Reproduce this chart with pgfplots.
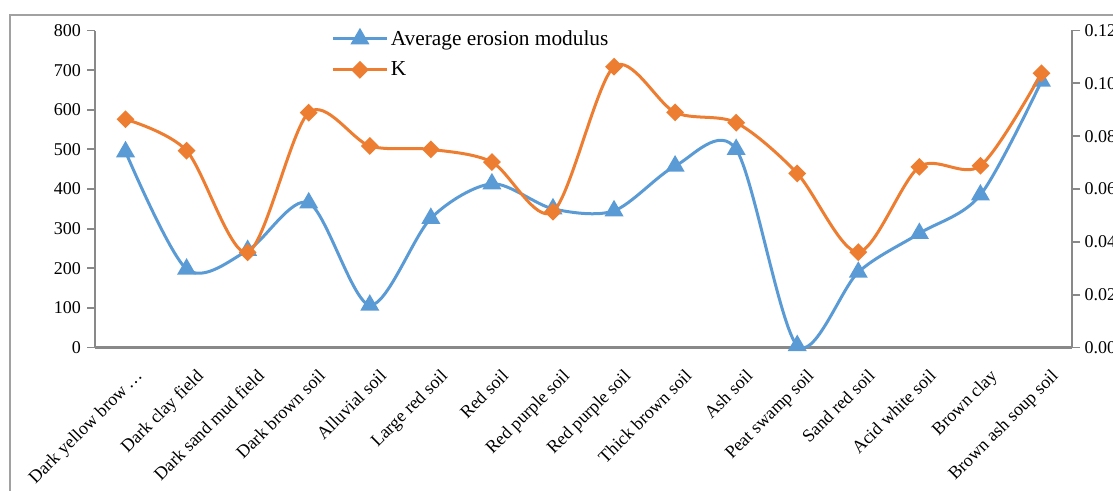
\documentclass[border=0pt]{standalone}
\usepackage{pgfplots}
\pgfplotsset{compat=1.18}
\usepackage{fontspec}
\setmainfont{Liberation Serif}

\definecolor{xlblue}{HTML}{5B9BD5}
\definecolor{xlorange}{HTML}{ED7D31}
\definecolor{xlgrey}{HTML}{898989}

% average erosion modulus (left axis)
\pgfplotstableread{
x  E
0  494
1  198
2  245
3  365
4  107
5  326
6  413
7  350
8  345
9  458
10 500
11 5
12 190
13 288
14 385
15 672
}\erosion

% K (right axis)
\pgfplotstableread{
x  K
0  0.0864
1  0.0745
2  0.0360
3  0.0889
4  0.0763
5  0.0750
6  0.0702
7  0.0514
8  0.1063
9  0.0890
10 0.0851
11 0.0659
12 0.0361
13 0.0684
14 0.0688
15 0.1038
}\kval

\pgfplotsset{
  common/.style={
    width=732.75pt, height=237.75pt, scale only axis,
    at={(71.25pt,106.875pt)}, anchor=south west,
    xmin=-0.5, xmax=15.5,
    /pgf/number format/assume math mode=true,
    tick label style={font=\fontsize{13.5}{15}\selectfont, text=black},
    axis line style={xlgrey, line width=1.6pt},
    major tick style={xlgrey, line width=1.4pt},
    minor tick style={xlgrey, line width=1.4pt},
    tick align=outside,
    major tick length=6pt, minor tick length=6pt,
  },
}

\begin{document}
\begin{tikzpicture}
\useasboundingbox (0,0) rectangle (834.75pt,367.5pt);
\begin{scope}
  \clip (0,0) rectangle (834.75pt,367.5pt);
  \draw[xlgrey!80, line width=1.8pt] (7.5pt,-20pt) rectangle (900pt,356.25pt);
\end{scope}

\begin{axis}[
  common,
  axis x line*=bottom, axis y line*=left,
  ymin=0, ymax=800, ytick={0,100,...,800},
  xtick={0,...,15},
  xticklabels={Dark yellow brow\,…, Dark clay field, Dark sand mud field, Dark brown soil, Alluvial soil, Large red soil, Red soil, Red purple soil, Red purple soil, Thick brown soil, Ash soil, Peat swamp soil, Sand red soil, Acid white soil, Brown clay, Brown ash soup soil},
  x tick label style={xshift=6.5pt, yshift=-6.5pt, rotate=45, anchor=north east, inner sep=2pt},
  x tick style={draw=none},
  minor xtick={-0.5,0.5,...,15.5},
  yticklabel style={xshift=-1pt},
]
\addplot[xlblue, line width=2.25pt, smooth, tension=0.5,
  mark=triangle*, mark size=6pt, mark options={solid}] table[x=x, y=E] {\erosion};
\end{axis}

\begin{axis}[
  common,
  axis x line=none, axis y line*=right,
  ymin=0, ymax=0.12, ytick={0,0.02,...,0.121},
  yticklabel style={/pgf/number format/.cd, fixed, fixed zerofill, precision=2},
  legend style={draw=none, fill=none, at={(0.238,1.018)}, anchor=north west,
    font=\fontsize{16}{19}\selectfont, row sep=7pt,
    legend cell align=left},
  legend image code/.code={
    \draw[#1, mark repeat=2, mark phase=2] plot coordinates {(0pt,0pt) (20pt,0pt) (40pt,0pt)};
  },
]
\addlegendimage{xlblue, line width=2.25pt, mark=triangle*, mark size=6pt}
\addlegendentry{Average erosion modulus}
\addplot[xlorange, line width=2.25pt, smooth, tension=0.5,
  mark=square*, mark size=3.6pt, mark options={rotate=45}] table[x=x, y=K] {\kval};
\addlegendentry{K}
\end{axis}
\end{tikzpicture}
\end{document}
